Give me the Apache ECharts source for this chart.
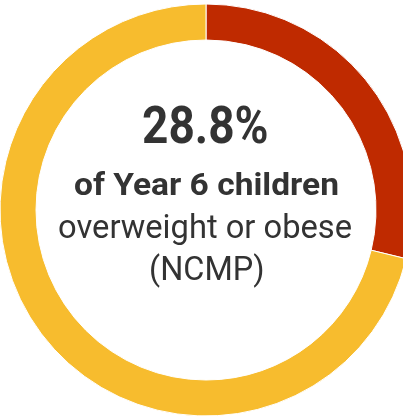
<!DOCTYPE html>
<html><head><meta charset="utf-8">
<script src="https://cdn.jsdelivr.net/npm/echarts@6/dist/echarts.min.js"></script>
<style>html,body{margin:0;padding:0;background:#fff}#c{width:403px;height:418px}</style>
</head><body><div id="c"></div>
<script>
const categories = ['Overweight or obese', 'Other'];
const values = [28.8, 71.2];
const colors = ['#BF2A00', '#F7BC2E'];
const textLines = ['28.8%', 'of Year 6 children', 'overweight or obese', '(NCMP)'];

// text layout: [fontWeight, fontSize, inkLeft, inkRight, baseline]
const textLayout = [
  ['bold', 51, 143, 267, 143],
  ['bold', 32, 75, 338, 195],
  ['normal', 34, 59, 351, 238],
  ['normal', 33, 151, 263, 280]
];

const mctx = document.createElement('canvas').getContext('2d');
function makeText(str, lay) {
  const [w, size, L, R, base] = lay;
  const font = w + ' ' + size + 'px Roboto';
  mctx.font = font;
  mctx.textAlign = 'center';
  mctx.textBaseline = 'alphabetic';
  const ma = mctx.measureText(str);
  mctx.textBaseline = 'middle';
  const mm = mctx.measureText(str);
  const offset = ma.actualBoundingBoxAscent - mm.actualBoundingBoxAscent; // middle -> baseline
  const left = ma.actualBoundingBoxLeft, right = ma.actualBoundingBoxRight;
  const s = (R - L) / (left + right);
  const xc = (L + R) / 2;
  const x = xc - s * (right - left) / 2;
  return {
    type: 'text', x: x, y: base - offset, scaleX: s, silent: true,
    style: {text: str, x: 0, y: 0, fill: '#333333', font: font, textAlign: 'center', textVerticalAlign: 'middle'}
  };
}

const chart = echarts.init(document.getElementById('c'), null, {renderer: 'canvas'});
chart.setOption({
  animation: false,
  series: [{
    type: 'pie',
    center: [206, 210],
    radius: [170, 206],
    startAngle: 90,
    clockwise: true,
    silent: true,
    label: {show: false},
    labelLine: {show: false},
    itemStyle: {borderColor: '#fff', borderWidth: 1},
    data: categories.map((c, i) => ({name: c, value: values[i], itemStyle: {color: colors[i]}}))
  }],
  graphic: textLines.map((t, i) => makeText(t, textLayout[i]))
});
</script></body></html>
